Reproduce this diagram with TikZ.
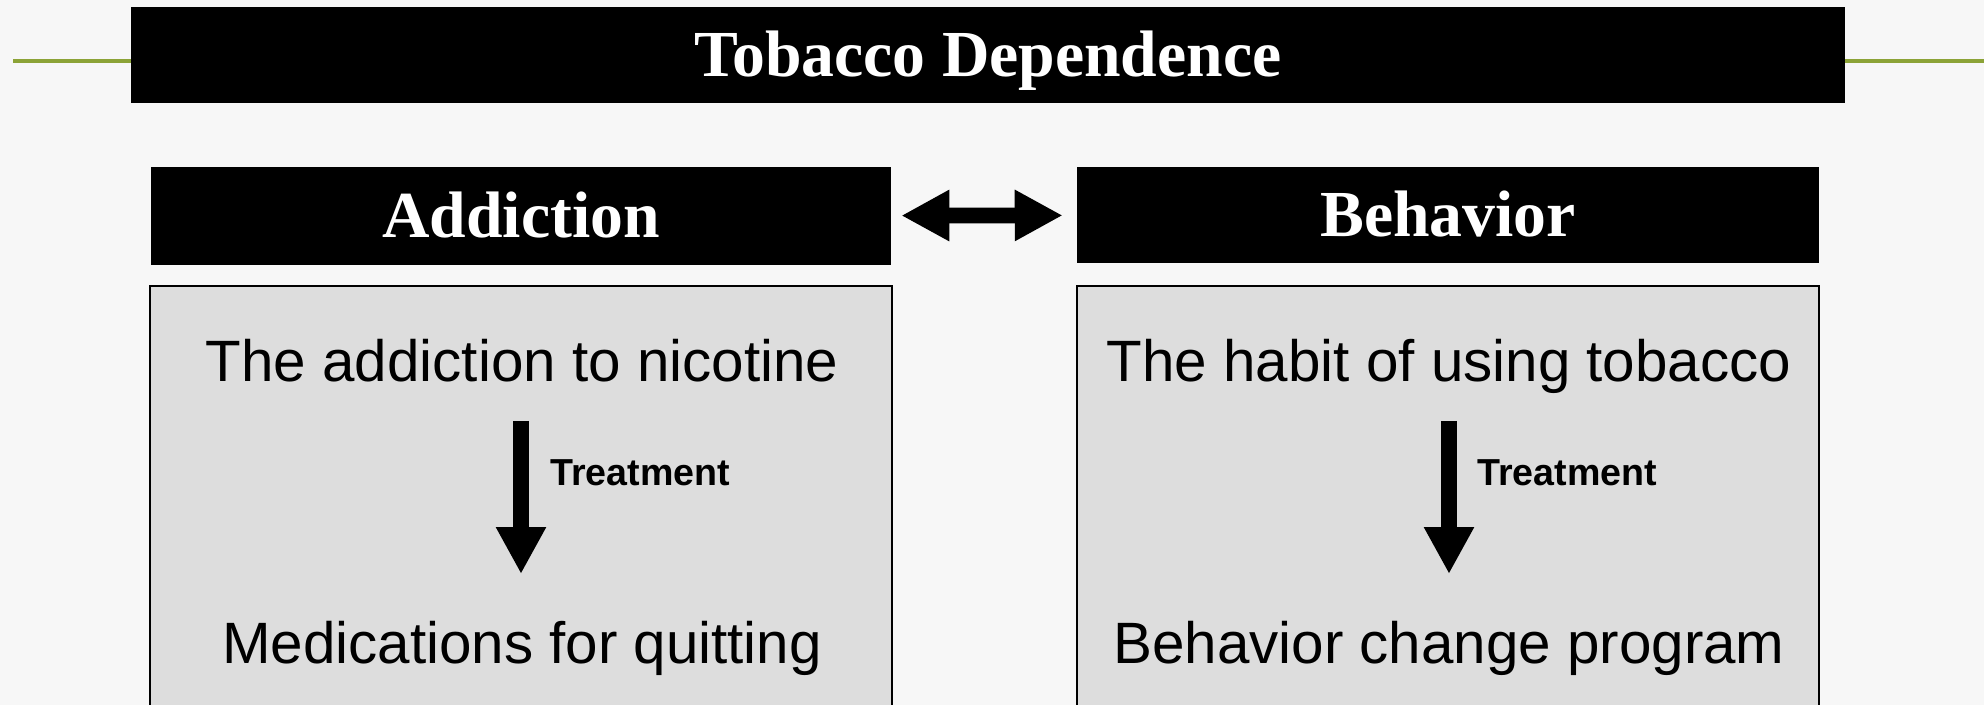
\documentclass[tikz,border=0pt]{standalone}
\usepackage{fontspec}
\setmainfont{Liberation Serif}
\setsansfont{Liberation Sans}
\usetikzlibrary{positioning,arrows.meta}
\definecolor{paper}{RGB}{247,247,247}
\definecolor{boxgray}{RGB}{221,221,221}
\definecolor{rulegreen}{RGB}{140,163,55}

\begin{document}
\begin{tikzpicture}[x=0.02cm, y=-0.02cm,
  headbar/.style={fill=black, text=white, inner sep=0pt,
    font=\bfseries\fontsize{37.4}{40}\selectfont, text height=26pt, text depth=2pt},
  panel/.style={draw=black, line width=1.1pt, fill=boxgray, inner sep=0pt,
    minimum width=14.86cm, minimum height=8.6cm},
  body/.style={font=\sffamily\fontsize{33.2}{36}\selectfont, anchor=base, inner sep=0pt},
  treat/.style={font=\sffamily\bfseries\fontsize{21.4}{24}\selectfont, anchor=base west, inner sep=0pt},
  fatarrow/.style={line width=9pt, -{Triangle[length=0.94cm, width=0.94cm]}}]
  \useasboundingbox (0,0) rectangle (1984,705);
  \clip (0,0) rectangle (1984,705);
  \fill[paper] (0,0) rectangle (1984,705);

  % title bar and rule
  \node[headbar, minimum width=34.28cm, minimum height=1.92cm] (title) at (988,55) {Tobacco Dependence};
  \coordinate (ruleL) at (13,61);
  \coordinate (ruleR) at (1984,61);
  \draw[rulegreen, line width=2.3pt] (ruleL) -- (ruleL -| title.west);
  \draw[rulegreen, line width=2.3pt] (title.east |- ruleR) -- (ruleR);

  % headings
  \node[headbar, minimum width=14.8cm, minimum height=1.96cm] (addH) at (521,216) {Addiction};
  \node[headbar, minimum width=14.84cm, minimum height=1.92cm] (behH) at (1448,215) {Behavior};
  \draw[line width=9pt, {Triangle[length=0.96cm, width=0.96cm]}-{Triangle[length=0.96cm, width=0.96cm]},
    shorten <=0.2cm, shorten >=0.28cm] (addH) -- (behH);

  % panels
  \node[panel, below=0.4cm of addH] (addP) {};
  \node[panel, below=0.44cm of behH] (behP) {};

  \node[body] (addT) at (522,382) {The addiction to nicotine};
  \node[body] (addM) at (522,663) {Medications for quitting};
  \node[body] (behT) at (1449,382) {The habit of using tobacco};
  \node[body] (behM) at (1449,663) {Behavior change program};

  % treatment arrows
  \coordinate (addA) at (521,421);
  \coordinate (addB) at (521,574);
  \draw[fatarrow] (addA) -- (addB);
  \node[treat] (addR) at (550,486) {Treatment};
  \coordinate (behA) at (1449,421);
  \coordinate (behB) at (1449,574);
  \draw[fatarrow] (behA) -- (behB);
  \node[treat] (behR) at (1477,486) {Treatment};
\end{tikzpicture}
\end{document}
